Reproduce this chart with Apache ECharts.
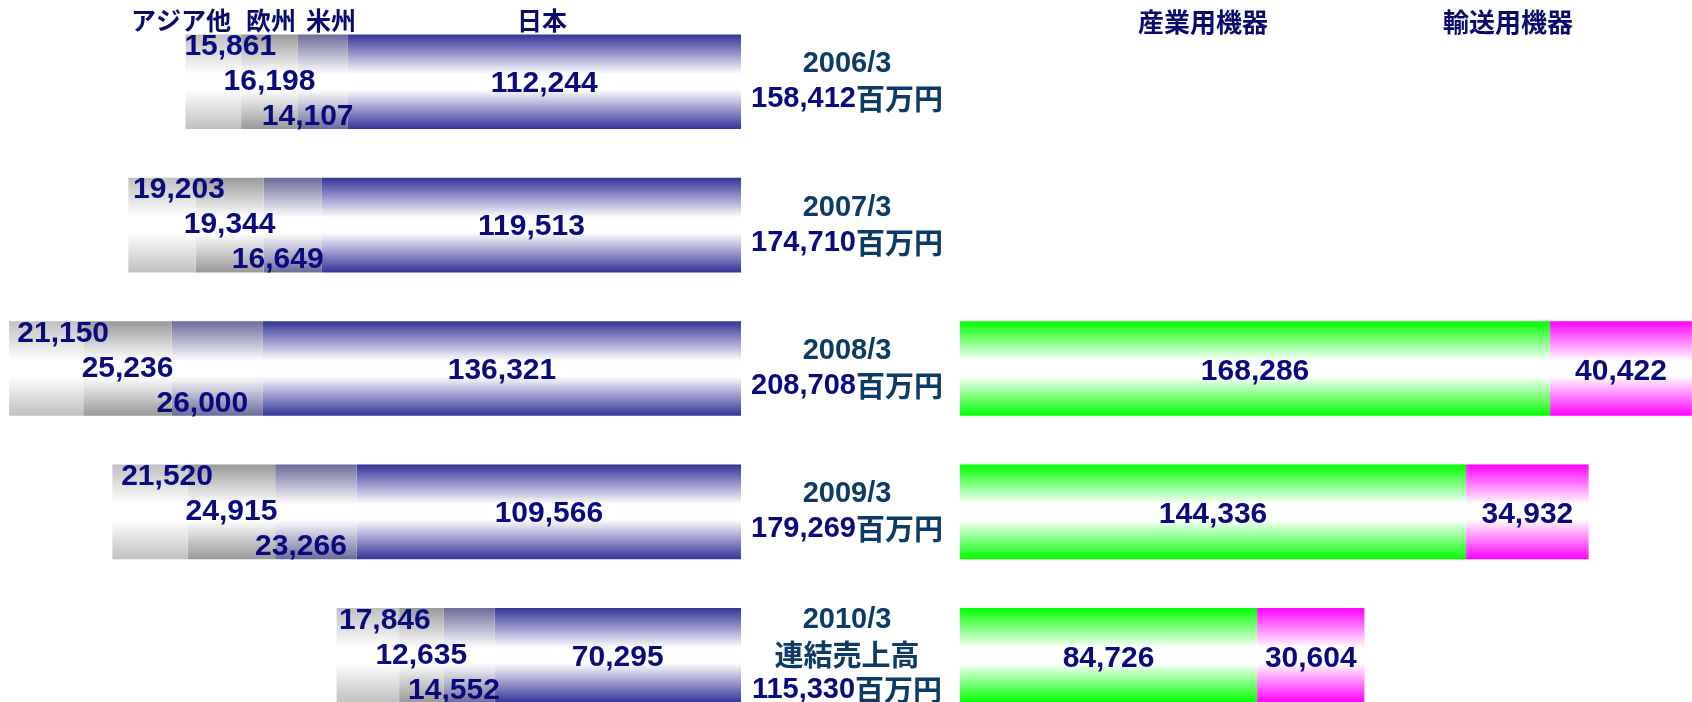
<!DOCTYPE html>
<html><head><meta charset="utf-8">
<script src="https://cdn.jsdelivr.net/npm/echarts@6/dist/echarts.min.js"></script>
<style>html,body{margin:0;padding:0;background:#fff}#c{width:1692px;height:702px}</style>
</head><body><div id="c"></div>
<script>
const periods = ['2006/3', '2007/3', '2008/3', '2009/3', '2010/3'];
const totals = [158412, 174710, 208708, 179269, 115330];
const japan = [112244, 119513, 136321, 109566, 70295];
const americas = [14107, 16649, 26000, 23266, 14552];
const europe = [16198, 19344, 25236, 24915, 12635];
const asiaOther = [15861, 19203, 21150, 21520, 17846];
const industrial = [null, null, 168286, 144336, 84726];
const transport = [null, null, 40422, 34932, 30604];
const regionNames = ['日本', '米州', '欧州', 'アジア他'];
const segmentNames = ['産業用機器', '輸送用機器'];

const NUM_FONT = "'Liberation Sans', Arial, sans-serif";
const CJK_FONT = "'Noto Sans CJK JP', 'Noto Sans', sans-serif";
const LABEL_COLOR = '#0a0a80';
const YEAR_COLOR = '#0d3b66';

function grad(c) {
  return new echarts.graphic.LinearGradient(0, 0, 0, 1, [
    { offset: 0, color: c },
    { offset: 0.42, color: '#ffffff' },
    { offset: 0.58, color: '#ffffff' },
    { offset: 1, color: c }
  ]);
}
const fmt = v => Number(v).toLocaleString('en-US');

function labelStyle(offset) {
  return {
    show: true, position: 'inside', offset: offset,
    fontFamily: NUM_FONT, fontWeight: 'bold', fontSize: 30, color: LABEL_COLOR,
    formatter: p => fmt(p.value)
  };
}

function leftSeries(name, data, color, offset) {
  return {
    name: name, type: 'bar', stack: 'region', xAxisIndex: 0, yAxisIndex: 0,
    data: data, barCategoryGap: '34%',
    itemStyle: { color: grad(color) },
    label: labelStyle(offset),
    emphasis: { disabled: true }
  };
}
function rightSeries(name, data, color) {
  return {
    name: name, type: 'bar', stack: 'segment', xAxisIndex: 1, yAxisIndex: 1,
    data: data, barCategoryGap: '34%',
    itemStyle: { color: grad(color) },
    label: labelStyle([0, 3]),
    emphasis: { disabled: true }
  };
}

const chart = echarts.init(document.getElementById('c'), null, { renderer: 'canvas' });

const headerLeft = [
  { text: regionNames[3], x: 181, y: 20 },
  { text: regionNames[2], x: 271, y: 20 },
  { text: regionNames[1], x: 331, y: 20 },
  { text: regionNames[0], x: 542, y: 20 }
];
const headerRight = [
  { text: segmentNames[0], x: 1203, y: 22 },
  { text: segmentNames[1], x: 1508, y: 22 }
];

const graphics = headerLeft.map(h => ({
  type: 'text', x: h.x, y: h.y, silent: true,
  style: { text: h.text, fill: '#0a0a6e', font: "bold 25px " + CJK_FONT, align: 'center', verticalAlign: 'middle' }
})).concat(headerRight.map(h => ({
  type: 'text', x: h.x, y: h.y, silent: true,
  style: { text: h.text, fill: '#0a0a6e', font: "bold 26px " + CJK_FONT, align: 'center', verticalAlign: 'middle' }
})));

chart.setOption({
  animation: false,
  backgroundColor: '#ffffff',
  graphic: graphics,
  grid: [
    { left: 0, top: 10, width: 741, height: 717, containLabel: false, outerBoundsMode: 'none' },
    { left: 960, top: 10, width: 732, height: 717, containLabel: false, outerBoundsMode: 'none' }
  ],
  xAxis: [
    { type: 'value', gridIndex: 0, inverse: true, min: 0, max: 211300, show: false },
    { type: 'value', gridIndex: 1, min: 0, max: 208750, show: false }
  ],
  yAxis: [
    {
      type: 'category', gridIndex: 0, data: periods, inverse: true, position: 'right',
      axisLine: { show: false }, axisTick: { show: false }, splitLine: { show: false },
      axisLabel: {
        margin: 106, align: 'center', verticalAlign: 'middle',
        formatter: (v, i) => {
          let s = '{y|' + v + '}\n';
          if (i === periods.length - 1) s += '{u|連結売上高}\n';
          s += '{n|' + fmt(totals[i]) + '}{u|百万円}';
          return s;
        },
        rich: {
          y: { fontFamily: NUM_FONT, fontWeight: 'bold', fontSize: 29, color: YEAR_COLOR, lineHeight: 35 },
          n: { fontFamily: NUM_FONT, fontWeight: 'bold', fontSize: 29, color: LABEL_COLOR, lineHeight: 35 },
          u: { fontFamily: CJK_FONT, fontWeight: 'bold', fontSize: 29, color: YEAR_COLOR, lineHeight: 35 }
        }
      }
    },
    {
      type: 'category', gridIndex: 1, data: periods, inverse: true, show: false
    }
  ],
  series: [
    leftSeries(regionNames[0], japan, '#333399', [0, 2]),
    leftSeries(regionNames[1], americas, '#6b6b9b', [-15, 35]),
    leftSeries(regionNames[2], europe, '#999999', [0, 0]),
    leftSeries(regionNames[3], asiaOther, '#c0c0c0', [17, -35]),
    rightSeries(segmentNames[0], industrial, '#00ff00'),
    rightSeries(segmentNames[1], transport, '#ff00ff')
  ]
});
</script>
</body></html>
